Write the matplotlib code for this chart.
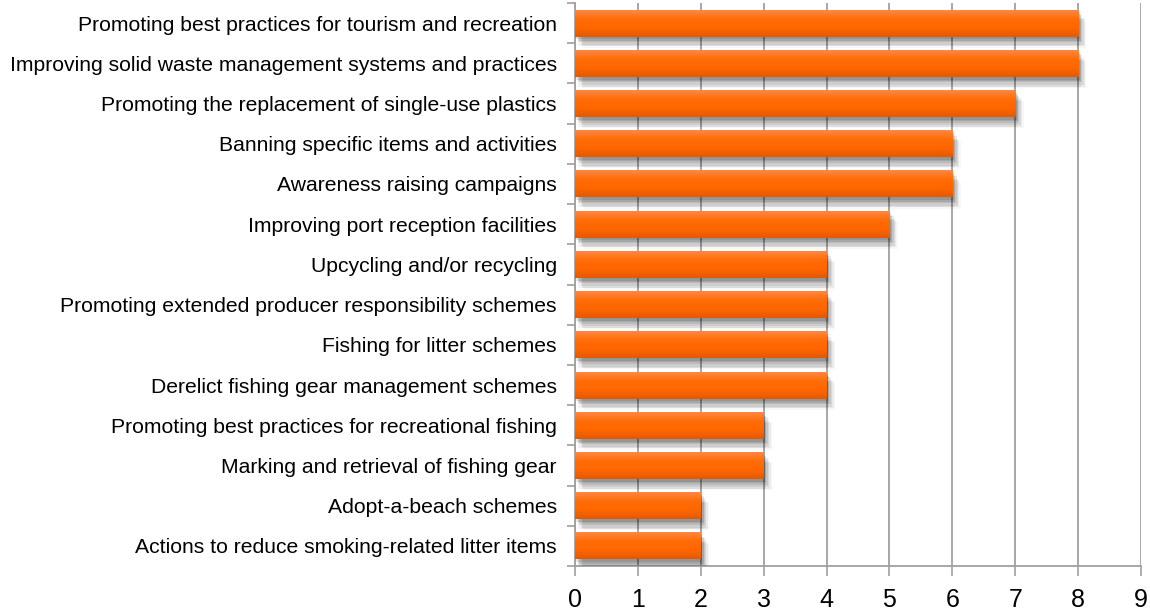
import matplotlib
matplotlib.use("Agg")
import matplotlib.pyplot as plt
import matplotlib.patheffects as pe
import numpy as np
from matplotlib.colors import LinearSegmentedColormap

categories = [
    "Promoting best practices for tourism and recreation",
    "Improving solid waste management systems and practices",
    "Promoting the replacement of single-use plastics",
    "Banning specific items and activities",
    "Awareness raising campaigns",
    "Improving port reception facilities",
    "Upcycling and/or recycling",
    "Promoting extended producer responsibility schemes",
    "Fishing for litter schemes",
    "Derelict fishing gear management schemes",
    "Promoting best practices for recreational fishing",
    "Marking and retrieval of fishing gear",
    "Adopt-a-beach schemes",
    "Actions to reduce smoking-related litter items",
]
values = [8, 8, 7, 6, 6, 5, 4, 4, 4, 4, 3, 3, 2, 2]
xticks = list(range(0, 10))

plt.rcParams['font.family'] = ['Liberation Sans', 'DejaVu Sans']

fig = plt.figure(figsize=(11.5, 6.11), dpi=100)
ax = fig.add_axes([0.5, 0.0736, 0.4922, 0.9215])

ypos = np.arange(len(categories))
bar_h = 0.67

shadow_effects = []
for (dx, dy, a) in [(1, -2, 0.10), (2, -3, 0.10), (3, -4, 0.09), (4, -6, 0.07),
                    (5, -7, 0.05), (2, -7, 0.05), (6, -8, 0.03)]:
    shadow_effects.append(pe.SimplePatchShadow(offset=(dx, dy), shadow_rgbFace='black', alpha=a))
shadow_effects.append(pe.Normal())

bars = ax.barh(ypos, values, height=bar_h, color="#FF6A0A", zorder=3)
cmap = LinearSegmentedColormap.from_list("og", ["#FF8845", "#FF6C05", "#FF6600", "#E35900"])
grad = np.linspace(0, 1, 64).reshape(-1, 1)
for b in bars:
    b.set_path_effects(shadow_effects)
    x0, y0 = b.get_x(), b.get_y()
    w, h = b.get_width(), b.get_height()
    im = ax.imshow(grad, cmap=cmap, aspect='auto', extent=[x0, x0 + w, y0 + h, y0],
                   zorder=4, interpolation='bicubic')
    im.set_clip_path(b)

ax.set_xlim(0, 9)
ax.set_ylim(len(categories) - 0.5, -0.5)
ax.set_xticks(xticks)
ax.set_xticklabels([str(t) for t in xticks], fontsize=18)
ax.set_yticks(ypos)
ax.set_yticklabels(categories, fontsize=15.2)
ax.tick_params(axis='y', which='major', length=0, pad=13)
ax.set_yticks(np.arange(-0.5, len(categories) + 0.5, 1), minor=True)
ax.tick_params(axis='y', which='minor', length=6, width=1.2, color="#A0A0A0", direction='out')
ax.tick_params(axis='x', which='major', length=7, width=1.2, color="#A0A0A0", pad=9)

ax.grid(axis='x', color="#A0A0A0", linewidth=1.3, zorder=0)
ax.set_axisbelow(True)
for s in ['top', 'right']:
    ax.spines[s].set_visible(False)
for s in ['left', 'bottom']:
    ax.spines[s].set_color("#A0A0A0")
    ax.spines[s].set_linewidth(1.3)

fig.savefig("out.png", dpi=100)
